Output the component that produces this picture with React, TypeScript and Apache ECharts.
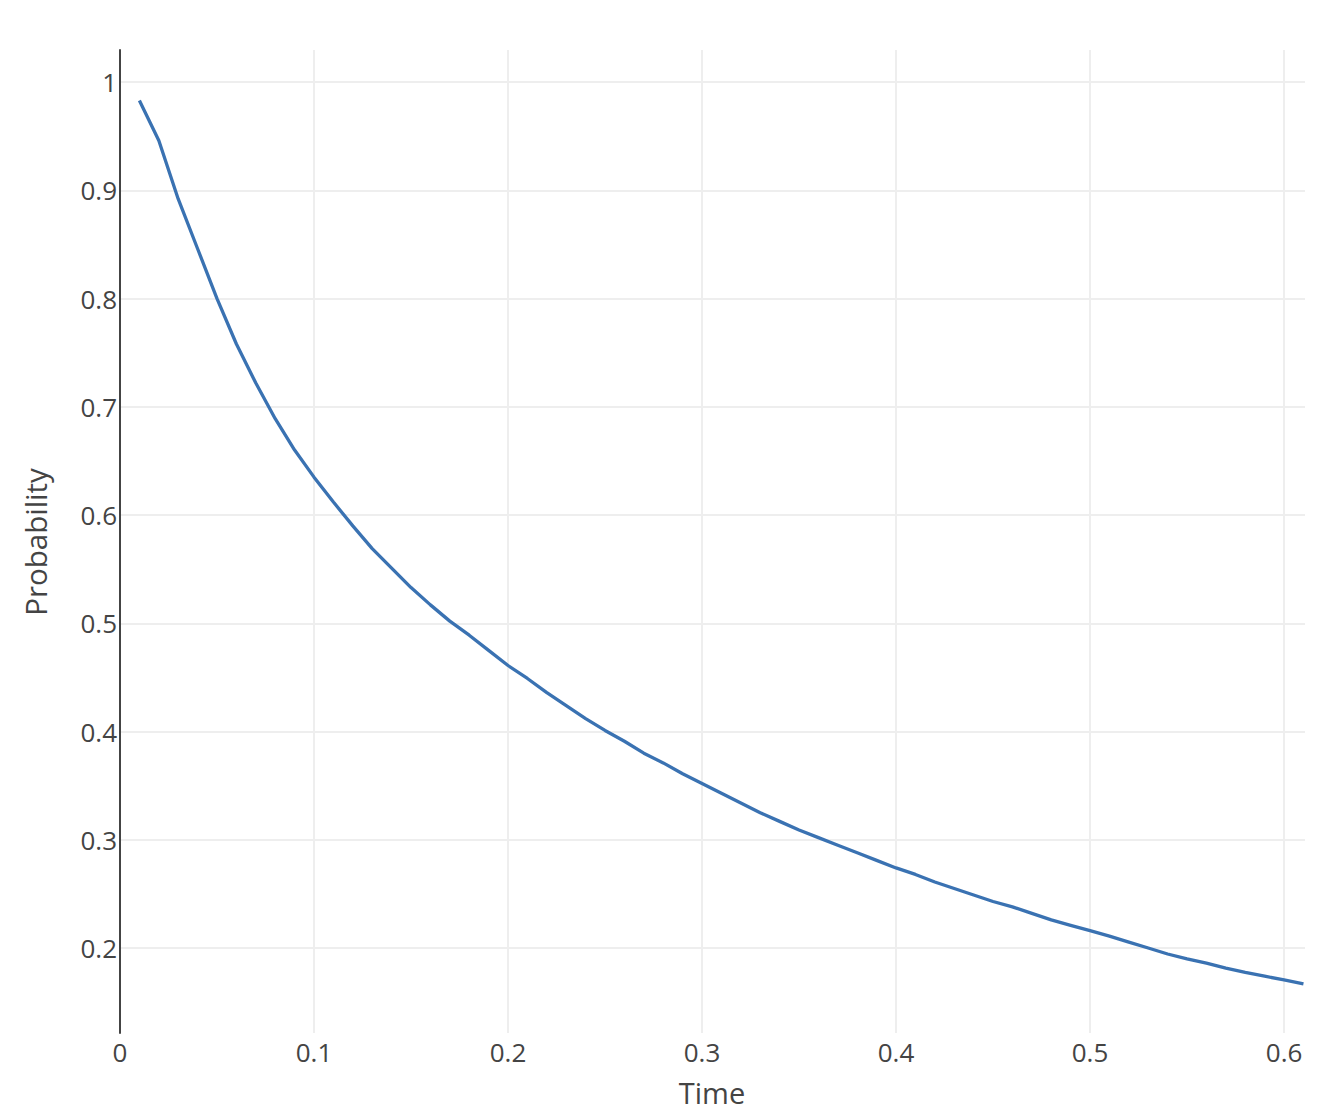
import React, { useEffect, useRef } from "react";
import * as echarts from "echarts";

const timeValues = [
  0.01, 0.02, 0.03, 0.04, 0.05, 0.06, 0.07, 0.08, 0.09, 0.1,
  0.11, 0.12, 0.13, 0.14, 0.15, 0.16, 0.17, 0.18, 0.19, 0.2,
  0.21, 0.22, 0.23, 0.24, 0.25, 0.26, 0.27, 0.28, 0.29, 0.3,
  0.31, 0.32, 0.33, 0.34, 0.35, 0.36, 0.37, 0.38, 0.39, 0.4,
  0.41, 0.42, 0.43, 0.44, 0.45, 0.46, 0.47, 0.48, 0.49, 0.5,
  0.51, 0.52, 0.53, 0.54, 0.55, 0.56, 0.57, 0.58, 0.59, 0.6,
  0.61,
];

const probabilityValues = [
  0.983, 0.946, 0.892, 0.846, 0.8, 0.758, 0.722, 0.689, 0.66, 0.635,
  0.612, 0.59, 0.569, 0.551, 0.533, 0.517, 0.502, 0.489, 0.475, 0.461,
  0.449, 0.436, 0.424, 0.412, 0.401, 0.391, 0.38, 0.371, 0.361, 0.352,
  0.343, 0.334, 0.325, 0.317, 0.309, 0.302, 0.295, 0.288, 0.281, 0.274,
  0.268, 0.261, 0.255, 0.249, 0.243, 0.238, 0.232, 0.226, 0.221, 0.216,
  0.211, 0.2055, 0.2, 0.1945, 0.19, 0.186, 0.1815, 0.1775, 0.174, 0.1705,
  0.1668,
];

const xTicks = [0, 0.1, 0.2, 0.3, 0.4, 0.5, 0.6];
const yTicks = [0.2, 0.3, 0.4, 0.5, 0.6, 0.7, 0.8, 0.9, 1];

const xTitle = "Time";
const yTitle = "Probability";

const FONT = "'Open Sans', sans-serif";

export default function App() {
  const ref = useRef<HTMLDivElement>(null);

  useEffect(() => {
    if (!ref.current) return;
    const chart = echarts.init(ref.current, undefined, { renderer: "svg" });
    const data = timeValues.map((t, i) => [t, probabilityValues[i]]);
    chart.setOption({
      animation: false,
      backgroundColor: "#ffffff",
      grid: { left: 120, right: 15, top: 50, bottom: 77, containLabel: false },
      xAxis: {
        type: "value",
        min: 0,
        max: 0.6108,
        axisLine: { show: false },
        axisTick: { show: false, customValues: xTicks },
        axisLabel: {
          customValues: xTicks,
          color: "#444",
          fontSize: 26,
          fontFamily: FONT,
          margin: 6,
          formatter: (v: number) => (v === 0 ? "0" : String(Math.round(v * 10) / 10)),
        },
        splitLine: { show: true, lineStyle: { color: "#eeeeee", width: 2 } },
      },
      yAxis: {
        type: "value",
        min: 0.1215,
        max: 1.0296,
        axisLine: { show: true, onZero: false, lineStyle: { color: "#444", width: 2 } },
        axisTick: { show: false, customValues: yTicks },
        axisLabel: {
          customValues: yTicks,
          color: "#444",
          fontSize: 26,
          fontFamily: FONT,
          margin: 3,
          formatter: (v: number) => (Math.abs(v - 1) < 1e-9 ? "1" : (Math.round(v * 10) / 10).toFixed(1)),
        },
        splitLine: { show: true, lineStyle: { color: "#eeeeee", width: 2 } },
      },
      graphic: [
        {
          type: "text",
          x: 712,
          y: 1092,
          style: {
            text: xTitle,
            fill: "#444",
            font: `29px ${FONT}`,
            lineHeight: 30,
            textAlign: "center",
            textVerticalAlign: "middle",
          },
        },
        {
          type: "text",
          x: 35,
          y: 542,
          rotation: Math.PI / 2,
          style: {
            text: yTitle,
            fill: "#444",
            font: `29.5px ${FONT}`,
            textAlign: "center",
            textVerticalAlign: "middle",
          },
        },
      ],
      series: [
        {
          type: "line",
          data,
          showSymbol: false,
          symbol: "none",
          lineStyle: { color: "#3a72b2", width: 3.3 },
          clip: true,
        },
      ],
    });
    return () => chart.dispose();
  }, []);

  return (
    <div
      ref={ref}
      style={{ position: "absolute", left: 0, top: 0, width: 1320, height: 1110 }}
    />
  );
}
